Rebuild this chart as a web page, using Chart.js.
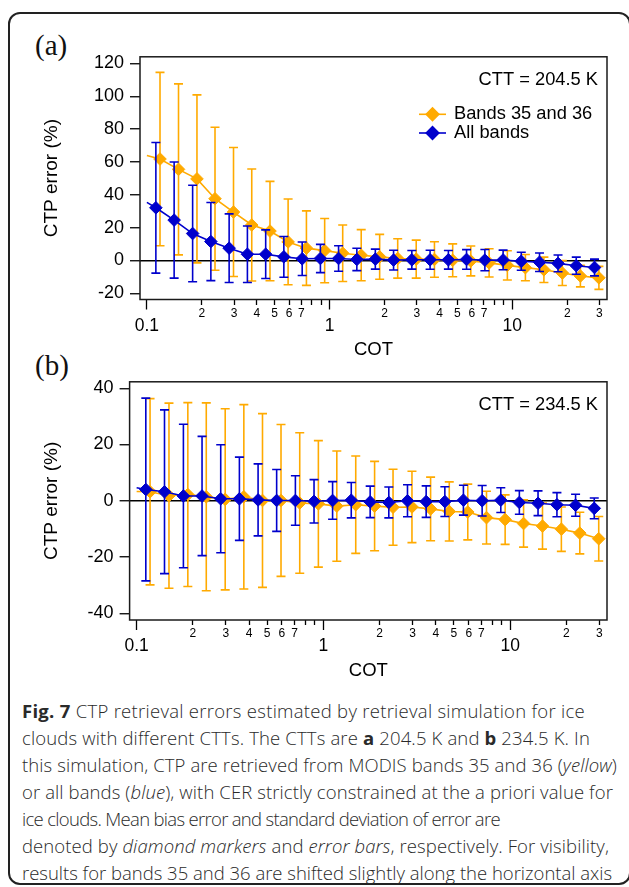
<!DOCTYPE html>
<html>
<head>
<meta charset="utf-8">
<script src="https://cdn.jsdelivr.net/npm/chart.js@4.4.1/dist/chart.umd.min.js"></script>
<style>
  html, body { margin: 0; padding: 0; background: #fff; width: 629px; height: 887px; overflow: hidden; position: relative; }
  #box { position: absolute; left: 8px; top: 12px; width: 619px; height: 869px; border: 2px solid #222; border-radius: 12px; box-sizing: content-box; }
  canvas { position: absolute; left: 0; }
  #cA { top: 40px; }
  #cB { top: 365px; }
  .plab { position: absolute; font-family: "Liberation Serif", serif; font-size: 29px; line-height: 29px; color: #111; }
  #cap { position: absolute; left: 22px; top: 697px; font-family: "Open Sans", sans-serif; font-weight: 300; font-size: 18.5px; color: #2a2a2a; }
  #cap div { height: 27px; line-height: 27px; white-space: nowrap; }
  #cap span.ln { display: inline-block; }
  #cap b { font-weight: 700; }
</style>
</head>
<body>
<div id="box"></div>
<div class="plab" style="left:35px; top:31px;">(a)</div>
<div class="plab" style="left:35px; top:351px;">(b)</div>
<canvas id="cA" width="629" height="325"></canvas>
<canvas id="cB" width="629" height="325"></canvas>
<div id="cap">
  <div><span class="ln"><b>Fig. 7</b> CTP retrieval errors estimated by retrieval simulation for ice</span></div>
  <div><span class="ln">clouds with different CTTs. The CTTs are <b>a</b> 204.5 K and <b>b</b> 234.5 K. In</span></div>
  <div><span class="ln">this simulation, CTP are retrieved from MODIS bands 35 and 36 (<i>yellow</i>)</span></div>
  <div><span class="ln">or all bands (<i>blue</i>), with CER strictly constrained at the a priori value for</span></div>
  <div><span class="ln">ice clouds. Mean bias error and standard deviation of error are</span></div>
  <div><span class="ln">denoted by <i>diamond markers</i> and <i>error bars</i>, respectively. For visibility,</span></div>
  <div><span class="ln">results for bands 35 and 36 are shifted slightly along the horizontal axis</span></div>
</div>
<script>
// ---------- data ----------
const cot = [0.112, 0.141, 0.178, 0.224, 0.282, 0.355, 0.447, 0.562, 0.708, 0.891, 1.12, 1.41, 1.78, 2.24, 2.82, 3.55, 4.47, 5.62, 7.08, 8.91, 11.2, 14.1, 17.8, 22.4, 28.2];
const cotShifted = [0.118, 0.149, 0.188, 0.236, 0.298, 0.375, 0.472, 0.593, 0.747, 0.940, 1.18, 1.49, 1.88, 2.36, 2.98, 3.75, 4.72, 5.93, 7.47, 9.40, 11.8, 14.9, 18.8, 23.6, 29.8];
const cotLineStart = 0.1;

const seriesNames = ["Bands 35 and 36", "All bands"];

// panel (a) CTT = 204.5 K
const meanBandsA = [61.8, 55.5, 49.7, 37.6, 29.5, 21.6, 17.9, 11.3, 7.5, 6.0, 4.4, 3.2, 2.2, 1.2, 0.8, 0.6, 0.1, -0.3, -1.5, -3.0, -4.4, -5.7, -7.7, -9.5, -10.6];
const sdBandsA   = [52.8, 52.1, 51.2, 43.6, 39.3, 34.1, 30.3, 26.1, 22.7, 19.6, 17.2, 15.6, 13.7, 12.0, 11.6, 10.8, 10.0, 9.1, 8.6, 8.9, 8.0, 7.7, 7.6, 6.6, 7.0];
const startBandsA = 63.9;
const meanAllA = [32.1, 24.6, 16.4, 11.5, 7.5, 3.8, 3.8, 2.2, 1.0, 1.2, 1.2, 0.6, 0.8, 0.2, 0.4, 0.4, 0.4, 0.6, 0.2, 0.3, -0.5, -1.1, -1.8, -3.2, -4.3];
const sdAllA   = [39.8, 35.4, 29.4, 23.8, 20.9, 17.2, 14.8, 12.4, 10.2, 8.6, 7.8, 6.8, 6.1, 6.0, 5.7, 5.8, 5.7, 6.0, 6.5, 6.0, 5.5, 5.6, 5.1, 5.2, 5.1];
const startAllA = 35.4;

// panel (b) CTT = 234.5 K
const meanBandsB = [3.2, 1.8, 2.2, 1.4, 0.5, 1.4, 0.1, 0.1, -0.8, -1.1, -1.9, -1.4, -1.9, -2.3, -2.2, -2.9, -3.8, -4.0, -6.0, -6.7, -8.1, -9.0, -10.1, -11.5, -13.5];
const sdBandsB   = [33.1, 32.9, 32.7, 33.4, 32.2, 32.8, 30.9, 27.0, 25.0, 22.5, 19.6, 17.3, 15.9, 13.5, 12.7, 11.3, 10.5, 9.9, 9.4, 8.8, 8.4, 8.2, 7.9, 7.4, 7.9];
const startBandsB = 3.3;
const meanAllB = [4.0, 3.2, 1.7, 1.7, 0.7, 0.7, 0.3, 0.1, 0.1, -0.2, 0.1, 0.2, -0.4, -0.6, 0.0, -0.3, -0.3, 0.2, 0.0, 0.2, -0.6, -0.9, -1.4, -1.6, -2.7];
const sdAllB   = [32.5, 29.1, 25.5, 21.2, 19.2, 14.8, 12.8, 11.0, 8.8, 7.7, 6.7, 6.3, 5.6, 5.5, 5.7, 5.6, 5.3, 5.3, 5.4, 4.4, 4.2, 4.4, 4.3, 3.9, 3.7];
const startAllB = 4.6;

const xTickVals = [0.1, 0.2, 0.3, 0.4, 0.5, 0.6, 0.7, 0.8, 0.9, 1, 2, 3, 4, 5, 6, 7, 8, 9, 10, 20, 30];
const yTicksA = [-20, 0, 20, 40, 60, 80, 100, 120];
const yTicksB = [-40, -20, 0, 20, 40];
const cttA = "CTT = 204.5 K";
const cttB = "CTT = 234.5 K";

// ---------- caption line fitting (layout only) ----------
const capRight = [585, 590, 617, 613, 500, 609, 612];
document.querySelectorAll('#cap span.ln').forEach((s, i) => {
  const w = s.getBoundingClientRect().width;
  const n = s.textContent.length;
  const target = capRight[i] - 22;
  s.style.letterSpacing = ((target - w) / n).toFixed(3) + 'px';
});

// ---------- styles ----------
const ORANGE = '#FFAA00';
const BLUE = '#0000CC';
const FAM = '"Liberation Sans", Arial, Helvetica, sans-serif';

function mant(v) {
  const e = Math.floor(Math.log10(v) + 1e-9);
  return Math.round(v / Math.pow(10, e));
}

function makeSeries(label, xs, means, sds, startY, color) {
  const data = [{ x: cotLineStart, y: startY }].concat(xs.map((x, i) => ({ x: x, y: means[i] })));
  const err = [null].concat(sds);
  return {
    label: label, data: data, err: err,
    borderColor: color, backgroundColor: color, borderWidth: 1.6,
    pointStyle: 'rectRot', pointRadius: data.map((d, i) => i === 0 ? 0 : 6.3),
    pointBorderWidth: 1, pointBorderColor: color, pointBackgroundColor: color,
    pointHoverRadius: 0, tension: 0
  };
}

const errorBars = {
  id: 'errorBars',
  beforeDatasetDraw(chart, args) {
    const ds = chart.data.datasets[args.index];
    if (!ds.err) return;
    const xs = chart.scales.x, ys = chart.scales.y, ctx = chart.ctx, ca = chart.chartArea;
    ctx.save();
    ctx.beginPath();
    ctx.rect(ca.left, ca.top, ca.right - ca.left, ca.bottom - ca.top);
    ctx.clip();
    ctx.strokeStyle = ds.borderColor;
    ctx.lineWidth = 1.6;
    ds.data.forEach((p, i) => {
      const e = ds.err[i];
      if (e == null) return;
      const px = xs.getPixelForValue(p.x);
      const y1 = ys.getPixelForValue(p.y + e), y2 = ys.getPixelForValue(p.y - e);
      ctx.beginPath();
      ctx.moveTo(px, y1); ctx.lineTo(px, y2);
      ctx.moveTo(px - 4.5, y1); ctx.lineTo(px + 4.5, y1);
      ctx.moveTo(px - 4.5, y2); ctx.lineTo(px + 4.5, y2);
      ctx.stroke();
    });
    ctx.restore();
  }
};

const decor = {
  id: 'decor',
  afterDraw(chart, args, opts) {
    const ctx = chart.ctx, ca = chart.chartArea;
    ctx.save();
    ctx.strokeStyle = '#1a1a1a';
    ctx.lineWidth = 1.5;
    ctx.strokeRect(ca.left, ca.top, ca.right - ca.left, ca.bottom - ca.top);
    ctx.fillStyle = '#000';
    ctx.font = '18.3px ' + FAM;
    ctx.textAlign = 'right';
    ctx.textBaseline = 'middle';
    ctx.fillText(opts.ctt, ca.right - 9, ca.top + 23.5);
    if (opts.legend) {
      const order = [1, 0]; // Bands 35 and 36 first, then All bands
      order.forEach((di, k) => {
        const ds = chart.data.datasets[di];
        const y = ca.top + 57.5 + k * 18.7;
        ctx.strokeStyle = ds.borderColor;
        ctx.lineWidth = 1.6;
        ctx.beginPath(); ctx.moveTo(419, y); ctx.lineTo(446, y); ctx.stroke();
        ctx.fillStyle = ds.borderColor;
        Chart.helpers.drawPoint(ctx, { pointStyle: 'rectRot', radius: 6.3, borderWidth: 1 }, 432.5, y);
        ctx.fillStyle = '#000';
        ctx.textAlign = 'left';
        ctx.fillText(ds.label, 454, y);
      });
    }
    ctx.restore();
  }
};

function build(canvasId, o) {
  new Chart(document.getElementById(canvasId), {
    type: 'line',
    data: {
      datasets: [
        makeSeries(seriesNames[1], cot, o.meanAll, o.sdAll, o.startAll, BLUE),
        makeSeries(seriesNames[0], cotShifted, o.meanBands, o.sdBands, o.startBands, ORANGE)
      ]
    },
    plugins: [errorBars, decor],
    options: {
      responsive: false, animation: false, devicePixelRatio: 1, events: [],
      layout: { padding: { left: 34, right: 22, top: o.padTop, bottom: o.padBottom } },
      plugins: { legend: { display: false }, tooltip: { enabled: false }, decor: { ctt: o.ctt, legend: o.legend } },
      scales: {
        x: {
          type: 'logarithmic', min: 0.0917, max: 33, position: 'bottom',
          afterBuildTicks: s => { s.ticks = xTickVals.map(v => ({ value: v })); },
          afterFit: s => { s.height = o.xHeight; },
          border: { display: false },
          grid: {
            drawOnChartArea: false, drawTicks: true, tickLength: 10, tickColor: '#000', tickWidth: 1.3,
            tickBorderDash: c => (c.tick && mant(c.tick.value) === 1) ? [] : [5, 100]
          },
          ticks: {
            autoSkip: false, maxRotation: 0, minRotation: 0, padding: 0, color: '#000',
            callback: (v) => {
              const m = mant(v);
              if (m === 1) return ['', String(v)];
              if (m >= 2 && m <= 7) return String(m);
              return '';
            },
            font: c => {
              const m = c.tick ? mant(c.tick.value) : 1;
              return m === 1 ? { family: FAM, size: 17.5, lineHeight: 0.63 } : { family: FAM, size: 12, lineHeight: 0.68 };
            }
          },
          title: { display: true, text: 'COT', color: '#000', font: { family: FAM, size: 18.5 }, padding: { top: 0, bottom: 0 } }
        },
        y: {
          type: 'linear', min: o.yMin, max: o.yMax,
          afterBuildTicks: s => { s.ticks = o.yTicks.map(v => ({ value: v })); },
          afterFit: s => { s.width = o.yWidth; },
          border: { display: false },
          grid: {
            drawOnChartArea: true, drawTicks: true, tickLength: 10, tickColor: '#000', tickWidth: 1.3,
            color: c => (c.tick && c.tick.value === 0) ? '#000' : 'rgba(0,0,0,0)', lineWidth: 1.5
          },
          ticks: { padding: 6, color: '#000', font: { family: FAM, size: 18 } },
          title: { display: true, text: 'CTP error (%)', color: '#000', font: { family: FAM, size: 19 }, padding: { top: 6, bottom: 0 } }
        }
      }
    }
  });
}

build('cA', {
  meanAll: meanAllA, sdAll: sdAllA, startAll: startAllA,
  meanBands: meanBandsA, sdBands: sdBandsA, startBands: startBandsA,
  yMin: -23.8, yMax: 124.1, yTicks: yTicksA, yWidth: 106,
  padTop: 15, padBottom: 3.8, xHeight: 61.7, ctt: cttA, legend: true
});
build('cB', {
  meanAll: meanAllB, sdAll: sdAllB, startAll: startAllB,
  meanBands: meanBandsB, sdBands: sdBandsB, startBands: startBandsB,
  yMin: -42.4, yMax: 42.3, yTicks: yTicksB, yWidth: 95.6,
  padTop: 10.7, padBottom: 8.1, xHeight: 61.9, ctt: cttB, legend: false
});
</script>
</body>
</html>
